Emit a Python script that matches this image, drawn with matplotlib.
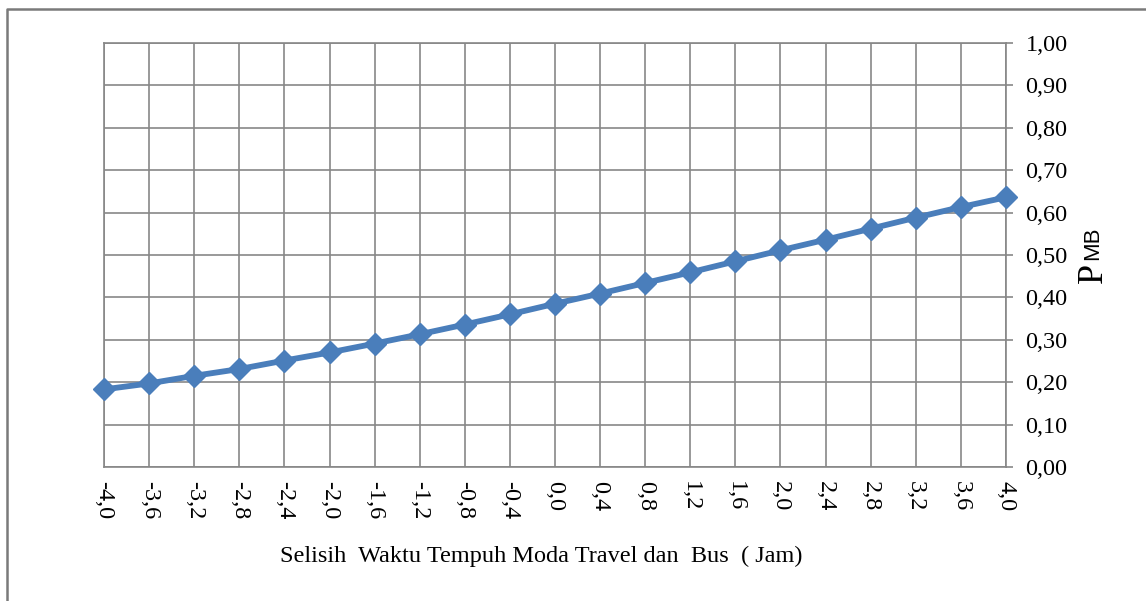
import numpy as np
import matplotlib.pyplot as plt
from matplotlib.lines import Line2D

# selisih waktu tempuh (jam) vs probabilitas P_MB
selisih = [-4.0, -3.6, -3.2, -2.8, -2.4, -2.0, -1.6, -1.2, -0.8, -0.4, 0.0,
           0.4, 0.8, 1.2, 1.6, 2.0, 2.4, 2.8, 3.2, 3.6, 4.0]
p_mb = [0.183, 0.197, 0.215, 0.231, 0.251, 0.270, 0.291, 0.313, 0.336, 0.360, 0.385,
        0.409, 0.434, 0.459, 0.485, 0.511, 0.536, 0.562, 0.588, 0.613, 0.636]
x_labels = ['-4,0', '-3,6', '-3,2', '-2,8', '-2,4', '-2,0', '-1,6', '-1,2', '-0,8', '-0,4', '0,0',
            '0,4', '0,8', '1,2', '1,6', '2,0', '2,4', '2,8', '3,2', '3,6', '4,0']
y_ticks = [0.0, 0.1, 0.2, 0.3, 0.4, 0.5, 0.6, 0.7, 0.8, 0.9, 1.0]
y_labels = ['0,00', '0,10', '0,20', '0,30', '0,40', '0,50', '0,60', '0,70', '0,80', '0,90', '1,00']

serif = 'Liberation Serif'
grey = '#878787'
blue = '#4a7ebb'

fig = plt.figure(figsize=(11.46, 6.01), dpi=100)
ax = fig.add_axes([0.0908, 0.2230, 0.7870, 0.7055])

ax.plot(selisih, p_mb, color=blue, lw=4.2, marker='D', ms=11, mfc=blue, mec=blue,
        clip_on=False, zorder=3)

ax.set_xlim(-4.0, 4.0)
ax.set_ylim(0, 1.0)
ax.set_xticks(selisih)
ax.set_xticklabels(x_labels, rotation=-90, family=serif, fontsize=17.5)
ax.set_yticks(y_ticks)
ax.set_yticklabels(y_labels, family=serif, fontsize=17.5)
ax.yaxis.tick_right()
ax.tick_params(axis='y', length=5, width=1.2, color=grey, pad=9)
ax.tick_params(axis='x', length=0, pad=10)

ax.grid(True, color=grey, lw=1.2)
for s in ax.spines.values():
    s.set_color(grey)
    s.set_linewidth(1.2)

ax.set_xlabel('Selisih  Waktu Tempuh Moda Travel dan  Bus  ( Jam)',
              family=serif, fontsize=17.5, va='center')
ax.xaxis.set_label_coords(0.485, -0.211)

# y axis title: P with small MB
fig.text(1093 / 1146, 1 - 273 / 601, 'P', rotation=90, family=serif, fontsize=26,
         ha='center', va='center')
fig.text(1093 / 1146, 1 - 243 / 601, 'MB', rotation=90, family='Liberation Sans',
         fontsize=16, ha='center', va='center')

# outer chart border
fig.add_artist(Line2D([7 / 1146, 7 / 1146, 1.0], [0.0, 1 - 9 / 601, 1 - 9 / 601],
                      transform=fig.transFigure, color='#7a7a7a', lw=1.8))

fig.savefig('out.png', dpi=100)
